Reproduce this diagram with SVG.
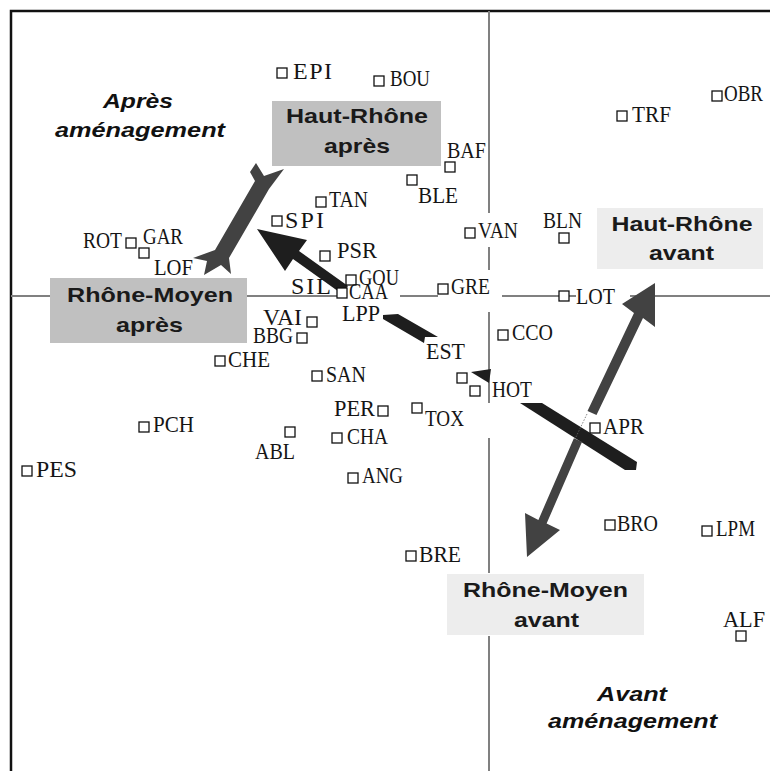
<svg xmlns="http://www.w3.org/2000/svg" width="770" height="771" viewBox="0 0 770 771">
<style>
.frame{stroke:#111;stroke-width:2.5;fill:none}
.axis{stroke:#808080;stroke-width:2;fill:none}
.pt{fill:#fff;stroke:#111;stroke-width:1.3}
.lbl{font-family:"Liberation Serif",serif;font-size:24px;fill:#151515}
.box1{fill:#c0c0c0}
.box2{fill:#ededed}
.bt{font-family:"Liberation Sans",Arial,sans-serif;font-weight:bold;font-size:21px;fill:#1a1a1a;text-anchor:middle}
.it{font-family:"Liberation Sans",Arial,sans-serif;font-weight:bold;font-style:italic;font-size:21px;fill:#111;text-anchor:middle}
.ga{fill:#424242}
.da{fill:#1e1e1e}
</style>
<rect width="770" height="771" fill="#fff"/>
<g id="frame">
<path class="frame" d="M11,771 V11 H770"/>
</g>
<g id="axes">
<path class="axis" d="M11,296 H50 M247,296 H343 M400,296 H438 M502,296 H576 M630,296 H770"/>
<path class="axis" d="M489,11 V213 M489,247 V270 M489,312 V403 M489,438 V573 M489,636 V771"/>
</g>
<g id="zones">
<text class="it" x="138" y="108" textLength="70" lengthAdjust="spacingAndGlyphs">Après</text>
<text class="it" x="140" y="137" textLength="170" lengthAdjust="spacingAndGlyphs">aménagement</text>
<text class="it" x="632" y="701" textLength="70" lengthAdjust="spacingAndGlyphs">Avant</text>
<text class="it" x="632.5" y="728" textLength="169" lengthAdjust="spacingAndGlyphs">aménagement</text>
</g>
<g id="hr-apres">
<rect class="box1" x="272" y="101" width="169" height="65"/>
<text class="bt" x="357" y="123" textLength="142" lengthAdjust="spacingAndGlyphs">Haut-Rhône</text>
<text class="bt" x="357" y="153" textLength="66" lengthAdjust="spacingAndGlyphs">après</text>
</g>
<g id="rm-apres">
<rect class="box1" x="50" y="278" width="197" height="65"/>
<text class="bt" x="150" y="302" textLength="166" lengthAdjust="spacingAndGlyphs">Rhône-Moyen</text>
<text class="bt" x="149.5" y="332" textLength="67" lengthAdjust="spacingAndGlyphs">après</text>
</g>
<g id="hr-avant">
<rect class="box2" x="597" y="208" width="166" height="61"/>
<text class="bt" x="682" y="231" textLength="141" lengthAdjust="spacingAndGlyphs">Haut-Rhône</text>
<text class="bt" x="681.5" y="260" textLength="65" lengthAdjust="spacingAndGlyphs">avant</text>
</g>
<g id="rm-avant">
<rect class="box2" x="447" y="574" width="197" height="61"/>
<text class="bt" x="545.5" y="597" textLength="165" lengthAdjust="spacingAndGlyphs">Rhône-Moyen</text>
<text class="bt" x="546.5" y="627" textLength="65" lengthAdjust="spacingAndGlyphs">avant</text>
</g>
<g id="connectors">
<polygon class="ga" points="256,163 264,176 284,169 269,189 229,258 231,274 221,265 204,275 207,261 193,258 215,250 255,181 250,172"/>
<polygon class="da" points="257,229 307,240 299,251 348,286 342,294 293,259 285,271"/>
<polygon class="da" points="383,315 398,314 438,337 425,337 424,343 383,319"/>
<polygon class="da" points="471,372 491,369 489,383"/>
<polygon class="da" points="520,403 542,403 637,462 636,470 625,470"/>
<polygon class="ga" points="655,283 655,327 643,318 596.5,415 587.5,411 634,313 622,304"/>
<polygon class="ga" points="527,557 525,513 538.4,519.9 573.9,438.2 582.1,441.8 546.6,523.5 560,530"/>
<line x1="587" y1="414" x2="575" y2="439" stroke="#666" stroke-width="0.8" stroke-dasharray="1.5 1.5"/>
</g>
<g id="EPI"><rect class="pt" x="277" y="68" width="10" height="10"/><text class="lbl" x="293" y="79" textLength="39" lengthAdjust="spacing">EPI</text></g>
<g id="BOU"><rect class="pt" x="374" y="76" width="10" height="10"/><text class="lbl" x="390" y="86" textLength="40" lengthAdjust="spacingAndGlyphs">BOU</text></g>
<g id="BAF"><rect class="pt" x="445" y="162" width="10" height="10"/><text class="lbl" x="447" y="158" textLength="39" lengthAdjust="spacingAndGlyphs">BAF</text></g>
<g id="BLE"><rect class="pt" x="407" y="175" width="10" height="10"/><text class="lbl" x="418" y="203" textLength="40" lengthAdjust="spacingAndGlyphs">BLE</text></g>
<g id="TAN"><rect class="pt" x="316" y="197" width="10" height="10"/><text class="lbl" x="329" y="207" textLength="39" lengthAdjust="spacingAndGlyphs">TAN</text></g>
<g id="SPI"><rect class="pt" x="272" y="216" width="10" height="10"/><text class="lbl" x="285" y="228" textLength="39" lengthAdjust="spacing">SPI</text></g>
<g id="PSR"><rect class="pt" x="320" y="251" width="10" height="10"/><text class="lbl" x="337" y="258" textLength="40" lengthAdjust="spacingAndGlyphs">PSR</text></g>
<g id="GOU"><rect class="pt" x="346" y="275" width="10" height="10"/><text class="lbl" x="359" y="285" textLength="40" lengthAdjust="spacingAndGlyphs">GOU</text></g>
<g id="SIL"><text class="lbl" x="291" y="294" textLength="40" lengthAdjust="spacing">SIL</text></g>
<g id="CAA"><rect class="pt" x="337" y="288" width="10" height="10"/><text class="lbl" x="349" y="299" textLength="39" lengthAdjust="spacingAndGlyphs">CAA</text></g>
<g id="GRE"><rect class="pt" x="438" y="284" width="10" height="10"/><text class="lbl" x="451" y="294" textLength="39" lengthAdjust="spacingAndGlyphs">GRE</text></g>
<g id="VAN"><rect class="pt" x="465" y="228" width="10" height="10"/><text class="lbl" x="478" y="238" textLength="40" lengthAdjust="spacingAndGlyphs">VAN</text></g>
<g id="LPP"><text class="lbl" x="342" y="321" textLength="38" lengthAdjust="spacingAndGlyphs">LPP</text></g>
<g id="VAI"><rect class="pt" x="307" y="317" width="10" height="10"/><text class="lbl" x="263" y="325" textLength="39" lengthAdjust="spacingAndGlyphs">VAI</text></g>
<g id="BBG"><rect class="pt" x="297" y="333" width="10" height="10"/><text class="lbl" x="253" y="343" textLength="40" lengthAdjust="spacingAndGlyphs">BBG</text></g>
<g id="SAN"><rect class="pt" x="312" y="371" width="10" height="10"/><text class="lbl" x="326" y="382" textLength="40" lengthAdjust="spacingAndGlyphs">SAN</text></g>
<g id="EST"><text class="lbl" x="426" y="359" textLength="39" lengthAdjust="spacingAndGlyphs">EST</text></g>
<g id="HOT"><rect class="pt" x="457" y="373" width="10" height="10"/><rect class="pt" x="470" y="386" width="10" height="10"/><text class="lbl" x="492" y="397" textLength="40" lengthAdjust="spacingAndGlyphs">HOT</text></g>
<g id="CHE"><rect class="pt" x="215" y="356" width="10" height="10"/><text class="lbl" x="228" y="367" textLength="42" lengthAdjust="spacingAndGlyphs">CHE</text></g>
<g id="ROT"><rect class="pt" x="126" y="238" width="10" height="10"/><text class="lbl" x="83" y="248" textLength="39" lengthAdjust="spacingAndGlyphs">ROT</text></g>
<g id="GAR"><rect class="pt" x="139" y="248" width="10" height="10"/><text class="lbl" x="143" y="244" textLength="40" lengthAdjust="spacingAndGlyphs">GAR</text></g>
<g id="LOF"><text class="lbl" x="154" y="275" textLength="39" lengthAdjust="spacingAndGlyphs">LOF</text></g>
<g id="PCH"><rect class="pt" x="139" y="422" width="10" height="10"/><text class="lbl" x="153" y="432" textLength="41" lengthAdjust="spacingAndGlyphs">PCH</text></g>
<g id="PES"><rect class="pt" x="22" y="466" width="10" height="10"/><text class="lbl" x="36" y="477" textLength="41" lengthAdjust="spacingAndGlyphs">PES</text></g>
<g id="ABL"><rect class="pt" x="285" y="427" width="10" height="10"/><text class="lbl" x="255" y="459" textLength="40" lengthAdjust="spacingAndGlyphs">ABL</text></g>
<g id="PER"><rect class="pt" x="378" y="406" width="10" height="10"/><text class="lbl" x="334" y="416" textLength="41" lengthAdjust="spacingAndGlyphs">PER</text></g>
<g id="CHA"><rect class="pt" x="332" y="433" width="10" height="10"/><text class="lbl" x="347" y="444" textLength="41" lengthAdjust="spacingAndGlyphs">CHA</text></g>
<g id="ANG"><rect class="pt" x="348" y="473" width="10" height="10"/><text class="lbl" x="362" y="483" textLength="41" lengthAdjust="spacingAndGlyphs">ANG</text></g>
<g id="TOX"><rect class="pt" x="412" y="403" width="10" height="10"/><text class="lbl" x="425" y="426" textLength="39" lengthAdjust="spacingAndGlyphs">TOX</text></g>
<g id="CCO"><rect class="pt" x="498" y="330" width="10" height="10"/><text class="lbl" x="512" y="340" textLength="41" lengthAdjust="spacingAndGlyphs">CCO</text></g>
<g id="LOT"><rect class="pt" x="559" y="291" width="10" height="10"/><text class="lbl" x="576" y="304" textLength="39" lengthAdjust="spacingAndGlyphs">LOT</text></g>
<g id="APR"><rect class="pt" x="590" y="423" width="10" height="10"/><text class="lbl" x="603" y="434" textLength="41" lengthAdjust="spacingAndGlyphs">APR</text></g>
<g id="BLN"><rect class="pt" x="559" y="233" width="10" height="10"/><text class="lbl" x="543" y="228" textLength="39" lengthAdjust="spacingAndGlyphs">BLN</text></g>
<g id="TRF"><rect class="pt" x="617" y="111" width="10" height="10"/><text class="lbl" x="632" y="122" textLength="39" lengthAdjust="spacingAndGlyphs">TRF</text></g>
<g id="OBR"><rect class="pt" x="712" y="91" width="10" height="10"/><text class="lbl" x="724" y="101" textLength="39" lengthAdjust="spacingAndGlyphs">OBR</text></g>
<g id="BRO"><rect class="pt" x="605" y="520" width="10" height="10"/><text class="lbl" x="617" y="531" textLength="41" lengthAdjust="spacingAndGlyphs">BRO</text></g>
<g id="LPM"><rect class="pt" x="702" y="526" width="10" height="10"/><text class="lbl" x="716" y="536" textLength="39" lengthAdjust="spacingAndGlyphs">LPM</text></g>
<g id="BRE"><rect class="pt" x="406" y="551" width="10" height="10"/><text class="lbl" x="419" y="562" textLength="42" lengthAdjust="spacingAndGlyphs">BRE</text></g>
<g id="ALF"><rect class="pt" x="736" y="631" width="10" height="10"/><text class="lbl" x="723" y="627" textLength="42" lengthAdjust="spacingAndGlyphs">ALF</text></g>
</svg>
